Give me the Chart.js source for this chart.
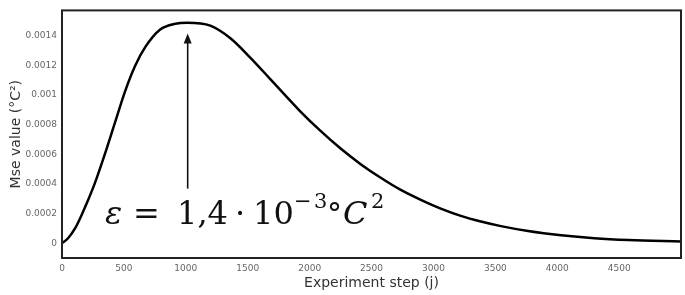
<!DOCTYPE html>
<html>
<head>
  <meta charset="UTF-8">
  <title>Mse value</title>
  <script src="https://cdn.jsdelivr.net/npm/chart.js@4.4.4/dist/chart.umd.min.js"></script>
  <style>
    html, body { margin: 0; padding: 0; background: #fff; }
    #wrap { width: 685px; height: 295px; position: relative; }
  </style>
</head>
<body>
<div id="wrap"><canvas id="mseChart"></canvas></div>

<script>
  const steps = [0, 49, 105, 162, 210, 267, 348, 429, 510, 591, 672, 793, 915, 1012, 1198, 1360,
                 1522, 1684, 1926, 2088, 2250, 2412, 2574, 2736, 2898, 3059, 3221, 3383, 3545,
                 3764, 4031, 4298, 4573, 4999];
  const mse = [0, 0.000033, 0.000099, 0.000197, 0.000289, 0.000408, 0.000605, 0.000816, 0.001026,
               0.001197, 0.001322, 0.001441, 0.00148, 0.001487, 0.001467, 0.001382, 0.00125,
               0.001105, 0.000888, 0.000757, 0.000638, 0.000533, 0.000441, 0.000359, 0.000292,
               0.000233, 0.000184, 0.000146, 0.000115, 0.000082, 0.000053, 0.000033, 0.000021, 0.000012];
  const xTicks = [0, 500, 1000, 1500, 2000, 2500, 3000, 3500, 4000, 4500];
  const yTicks = [0, 0.0002, 0.0004, 0.0006, 0.0008, 0.001, 0.0012, 0.0014];

  // annotation anchor (data units)
  const arrowX = 1015, arrowFrom = 0.000368, arrowTo = 0.001414;
  const labelX = 348, labelY = 0.000132;

  const points = steps.map((s, i) => ({ x: s, y: mse[i] }));

  const boxPlugin = {
    id: 'box',
    afterDatasetsDraw(chart) {
      const { ctx, chartArea: a } = chart;
      ctx.save();
      ctx.strokeStyle = '#222';
      ctx.lineWidth = 2;
      ctx.strokeRect(a.left, a.top, a.right - a.left, a.bottom - a.top);
      ctx.restore();
    }
  };

  const notePlugin = {
    id: 'note',
    afterDraw(chart) {
      const { ctx, scales: { x, y } } = chart;
      ctx.save();
      // arrow
      const ax = x.getPixelForValue(arrowX);
      const y0 = y.getPixelForValue(arrowFrom);
      const y1 = y.getPixelForValue(arrowTo);
      ctx.strokeStyle = '#111';
      ctx.fillStyle = '#111';
      ctx.lineWidth = 1.6;
      ctx.beginPath();
      ctx.moveTo(ax, y0);
      ctx.lineTo(ax, y1 + 8);
      ctx.stroke();
      ctx.beginPath();
      ctx.moveTo(ax, y1);
      ctx.lineTo(ax - 4, y1 + 10);
      ctx.lineTo(ax + 4, y1 + 10);
      ctx.closePath();
      ctx.fill();

      // formula  ε = 1,4 · 10^-3 °C^2
      const tx = x.getPixelForValue(labelX);
      const ty = y.getPixelForValue(labelY);
      const fam = '"DejaVu Serif"';
      const big = '32px ' + fam, bigI = 'italic 32px ' + fam, sup = '21px ' + fam;
      const parts = [
        { t: '\u03B5', f: bigI, dx: 0, up: 0 },
        { t: '=', f: big, dx: 28, up: 0 },
        { t: '1,4', f: big, dx: 72, up: 0 },
        { t: '\u00B7', f: big, dx: 130, up: 0 },
        { t: '10', f: big, dx: 148, up: 0 },
        { t: '\u2212', f: sup, dx: 189, up: 16 },
        { t: '3', f: sup, dx: 209, up: 16 },
        { t: '\u00B0', f: '30px ' + fam, dx: 222, up: 0 },
        { t: 'C', f: bigI, dx: 238, up: 0 },
        { t: '2', f: sup, dx: 266, up: 16 }
      ];
      ctx.textBaseline = 'alphabetic';
      ctx.textAlign = 'left';
      parts.forEach(p => {
        ctx.font = p.f;
        ctx.fillText(p.t, tx + p.dx, ty - p.up);
      });
      ctx.restore();
    }
  };

  new Chart(document.getElementById('mseChart'), {
    type: 'line',
    data: {
      datasets: [{
        data: points,
        borderColor: '#000',
        borderWidth: 2.5,
        pointRadius: 0,
        fill: false,
        cubicInterpolationMode: 'monotone'
      }]
    },
    options: {
      responsive: true,
      maintainAspectRatio: false,
      animation: false,
      layout: { padding: { top: 4, right: 4, left: 0, bottom: 0 } },
      plugins: { legend: { display: false }, tooltip: { enabled: false } },
      scales: {
        x: {
          type: 'linear',
          min: 0,
          max: 4999,
          afterFit: s => { s.height = 37; },
          afterBuildTicks: s => { s.ticks = xTicks.map(v => ({ value: v })); },
          grid: { display: false, drawTicks: false },
          border: { display: false },
          ticks: {
            padding: 5,
            color: '#666',
            font: { family: 'DejaVu Sans', size: 9 },
            maxRotation: 0,
            callback: v => String(v)
          },
          title: {
            display: true,
            text: 'Experiment step (j)',
            color: '#333',
            font: { family: 'DejaVu Sans', size: 14 },
            padding: { top: 0, bottom: 3 }
          }
        },
        y: {
          min: -0.0001,
          max: 0.00157,
          afterFit: s => { s.width = 62; },
          afterBuildTicks: s => { s.ticks = yTicks.map(v => ({ value: v })); },
          grid: { display: false, drawTicks: false },
          border: { display: false },
          ticks: {
            padding: 5,
            color: '#666',
            font: { family: 'DejaVu Sans', size: 9 },
            callback: v => String(Math.round(v * 1e5) / 1e5)
          },
          title: {
            display: true,
            text: 'Mse value (°C²)',
            color: '#333',
            font: { family: 'DejaVu Sans', size: 14 },
            padding: { top: 8, bottom: 4 }
          }
        }
      }
    },
    plugins: [boxPlugin, notePlugin]
  });
</script>
</body>
</html>
